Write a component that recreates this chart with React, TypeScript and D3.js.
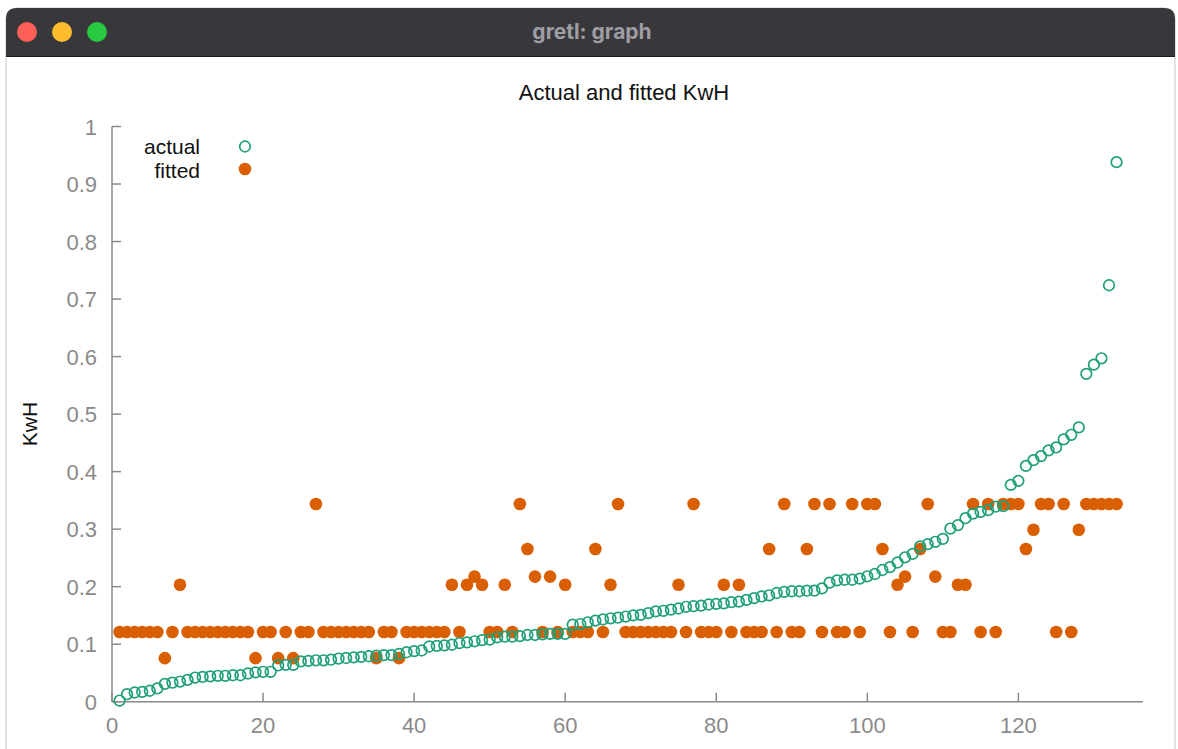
import React from "react";
import * as d3 from "d3";

// Observation index is 1..133 (sorted by actual)
const actual: number[] = [
  0.002, 0.013, 0.016, 0.017, 0.019, 0.023, 0.031, 0.033, 0.035, 0.038,
  0.042, 0.043, 0.044, 0.045, 0.045, 0.046, 0.046, 0.049, 0.051, 0.052,
  0.052, 0.063, 0.064, 0.064, 0.070, 0.071, 0.072, 0.072, 0.073, 0.075,
  0.076, 0.077, 0.078, 0.079, 0.080, 0.081, 0.081, 0.083, 0.086, 0.088,
  0.089, 0.096, 0.097, 0.098, 0.099, 0.102, 0.103, 0.105, 0.107, 0.108,
  0.112, 0.113, 0.113, 0.114, 0.116, 0.116, 0.117, 0.118, 0.118, 0.118,
  0.134, 0.135, 0.138, 0.141, 0.143, 0.145, 0.146, 0.148, 0.150, 0.151,
  0.154, 0.157, 0.158, 0.160, 0.162, 0.165, 0.166, 0.167, 0.169, 0.170,
  0.171, 0.173, 0.174, 0.177, 0.180, 0.183, 0.185, 0.189, 0.191, 0.192,
  0.192, 0.193, 0.193, 0.197, 0.207, 0.211, 0.212, 0.212, 0.214, 0.218,
  0.222, 0.229, 0.234, 0.242, 0.251, 0.257, 0.270, 0.274, 0.278, 0.283,
  0.301, 0.307, 0.319, 0.327, 0.330, 0.333, 0.339, 0.340, 0.377, 0.384,
  0.410, 0.420, 0.427, 0.437, 0.442, 0.456, 0.464, 0.477, 0.570, 0.586,
  0.597, 0.724, 0.938,
];

const fitted: number[] = [
  0.1213, 0.1213, 0.1213, 0.1213, 0.1213, 0.1213, 0.0757, 0.1213, 0.2033, 0.1213,
  0.1213, 0.1213, 0.1213, 0.1213, 0.1213, 0.1213, 0.1213, 0.1213, 0.0757, 0.1213,
  0.1213, 0.0757, 0.1213, 0.0757, 0.1213, 0.1213, 0.3437, 0.1213, 0.1213, 0.1213,
  0.1213, 0.1213, 0.1213, 0.1213, 0.0757, 0.1213, 0.1213, 0.0757, 0.1213, 0.1213,
  0.1213, 0.1213, 0.1213, 0.1213, 0.2033, 0.1213, 0.2033, 0.2175, 0.2033, 0.1213,
  0.1213, 0.2033, 0.1213, 0.3437, 0.2655, 0.2175, 0.1213, 0.2175, 0.1213, 0.2033,
  0.1213, 0.1213, 0.1213, 0.2655, 0.1213, 0.2033, 0.3437, 0.1213, 0.1213, 0.1213,
  0.1213, 0.1213, 0.1213, 0.1213, 0.2033, 0.1213, 0.3437, 0.1213, 0.1213, 0.1213,
  0.2033, 0.1213, 0.2033, 0.1213, 0.1213, 0.1213, 0.2655, 0.1213, 0.3437, 0.1213,
  0.1213, 0.2655, 0.3437, 0.1213, 0.3437, 0.1213, 0.1213, 0.3437, 0.1213, 0.3437,
  0.3437, 0.2655, 0.1213, 0.2033, 0.2175, 0.1213, 0.2655, 0.3437, 0.2175, 0.1213,
  0.1213, 0.2033, 0.2033, 0.3437, 0.1213, 0.3437, 0.1213, 0.3437, 0.3437, 0.3437,
  0.2655, 0.2990, 0.3437, 0.3437, 0.1213, 0.3437, 0.1213, 0.2990, 0.3437, 0.3437,
  0.3437, 0.3437, 0.3437,
];

const xTicks: number[] = [0, 20, 40, 60, 80, 100, 120];
const yTicks: number[] = [0, 0.1, 0.2, 0.3, 0.4, 0.5, 0.6, 0.7, 0.8, 0.9, 1];
const legendLabels: string[] = ["actual", "fitted"];

const W = 1178;
const H = 749;
const FONT = "'Liberation Sans', Arial, Helvetica, sans-serif";

export default function App() {
  const x = d3.scaleLinear().domain([0, 136.5]).range([112, 1143]);
  const y = d3.scaleLinear().domain([0, 1]).range([701.7, 126.5]);
  const axisColor = "#8a8a8a";
  const green = "#1fa07a";
  const orange = "#d95f02";

  return (
    <svg
      width={W}
      height={H}
      style={{ position: "absolute", left: 0, top: 0, background: "#fff" }}
      fontFamily={FONT}
    >
      {/* window chrome */}
      <rect x={0} y={0} width={W} height={H} fill="#ffffff" />
      <path
        d={`M6,${H} L6,19 Q6,8 17,8 L1164,8 Q1175,8 1175,19 L1175,${H}`}
        fill="#ffffff"
        stroke="#c8c8c8"
        strokeWidth={1}
      />
      <path
        d="M6,56 L6,19 Q6,8 17,8 L1164,8 Q1175,8 1175,19 L1175,56 Z"
        fill="#38373c"
      />
      <line x1={6} x2={1175} y1={56.5} y2={56.5} stroke="#1c1c1e" strokeWidth={1} />
      <circle cx={27} cy={32} r={10} fill="#fe5f57" />
      <circle cx={62} cy={32} r={10} fill="#febc2e" />
      <circle cx={97} cy={32} r={10} fill="#28c840" />
      <text
        x={592}
        y={38.5}
        textAnchor="middle"
        fontFamily="Inter, 'Open Sans', sans-serif"
        fontWeight={700}
        fontSize={21}
        fill="#9e9da2"
      >
        gretl: graph
      </text>

      {/* chart title */}
      <text x={624} y={100} textAnchor="middle" fontSize={22} fill="#111">
        Actual and fitted KwH
      </text>

      {/* axes */}
      <line x1={x(0)} x2={x(0)} y1={y(1)} y2={y(0)} stroke={axisColor} strokeWidth={1.5} />
      <line x1={x(0)} x2={x(136.5)} y1={y(0)} y2={y(0)} stroke={axisColor} strokeWidth={1.5} />
      {yTicks.map((t) => (
        <g key={"y" + t}>
          <line x1={x(0)} x2={x(0) + 9} y1={y(t)} y2={y(t)} stroke={axisColor} strokeWidth={1.5} />
          <text x={97} y={y(t) + 8} textAnchor="end" fontSize={22} fill="#8a8a8a">
            {d3.format("~g")(t)}
          </text>
        </g>
      ))}
      {xTicks.map((t) => (
        <g key={"x" + t}>
          <line x1={x(t)} x2={x(t)} y1={y(0)} y2={y(0) - 9} stroke={axisColor} strokeWidth={1.5} />
          <text x={x(t)} y={733} textAnchor="middle" fontSize={22} fill="#8a8a8a">
            {t}
          </text>
        </g>
      ))}

      {/* y label */}
      <text
        transform="translate(37,424) rotate(-90)"
        textAnchor="middle"
        fontSize={21}
        fill="#111"
      >
        KwH
      </text>

      {/* fitted points */}
      {fitted.map((v, i) => (
        <circle key={"f" + i} cx={x(i + 1)} cy={y(v)} r={6.3} fill={orange} />
      ))}
      {/* actual points */}
      {actual.map((v, i) => (
        <circle
          key={"a" + i}
          cx={x(i + 1)}
          cy={y(v)}
          r={5.3}
          fill="none"
          stroke={green}
          strokeWidth={1.7}
        />
      ))}

      {/* legend */}
      <text x={200} y={154} textAnchor="end" fontSize={21} fill="#111">
        {legendLabels[0]}
      </text>
      <circle cx={245} cy={146.5} r={5.3} fill="none" stroke={green} strokeWidth={1.7} />
      <text x={200} y={178} textAnchor="end" fontSize={21} fill="#111">
        {legendLabels[1]}
      </text>
      <circle cx={245} cy={169} r={6.3} fill={orange} />
    </svg>
  );
}
